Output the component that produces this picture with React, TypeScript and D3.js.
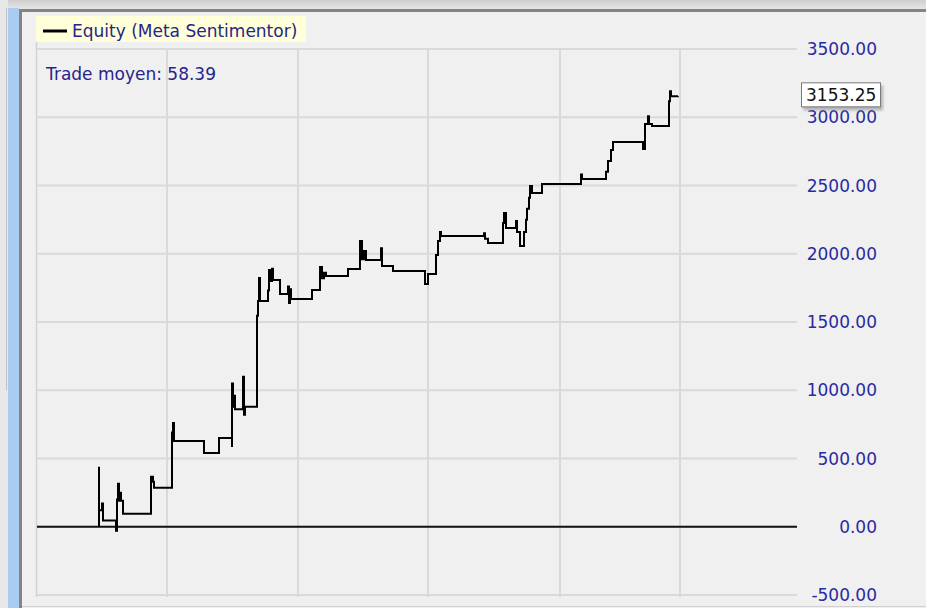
import * as d3 from "d3"

// equity curve: time position (bar offset) and cumulative profit
const equityTimes = [
  62, 62, 62, 65, 66, 78, 79, 80, 81, 82,
  83, 84, 86, 113, 114, 116, 117, 134, 135, 136,
  137, 166, 167, 181, 182, 194, 195, 195, 196, 197,
  198, 206, 207, 208, 219, 220, 221, 222, 223, 230,
  231, 232, 233, 235, 236, 242, 243, 251, 251, 252,
  253, 254, 274, 275, 283, 283, 285, 287, 289, 310,
  311, 323, 323, 325, 327, 329, 344, 344, 345, 355,
  356, 387, 388, 391, 399, 399, 401, 403, 404, 446,
  447, 448, 451, 465, 466, 467, 469, 478, 479, 480,
  483, 487, 487, 489, 490, 492, 493, 495, 504, 505,
  543, 544, 545, 567, 569, 571, 574, 576, 606, 606,
  608, 611, 612, 615, 632, 632, 633, 634, 641,
]
const equityValues = [
  0, 440, 120, 170, 45, 45, -30, 200, 315, 190,
  250, 190, 95, 95, 366, 330, 285, 285, 690, 760,
  629, 629, 541, 541, 651, 651, 585, 1050, 880, 960,
  860, 1098, 820, 880, 880, 1545, 1654, 1823, 1654, 1654,
  1730, 1881, 1801, 1890, 1808, 1808, 1706, 1706, 1760, 1640,
  1740, 1669, 1669, 1735, 1735, 1903, 1820, 1860, 1837, 1837,
  1888, 1888, 2093, 1960, 2020, 1954, 1954, 2040, 1910, 1910,
  1874, 1874, 1779, 1852, 1852, 1990, 2093, 2160, 2130, 2130,
  2150, 2110, 2079, 2079, 2225, 2299, 2189, 2189, 2240, 2160,
  2057, 2057, 2160, 2250, 2330, 2410, 2496, 2445, 2445, 2511,
  2511, 2580, 2548, 2548, 2600, 2680, 2760, 2818, 2818, 2767,
  2950, 3008, 2950, 2935, 2935, 3118, 3191, 3153, 3153.25,
]
const gridTimes = [130, 261, 391, 523, 643]
const yTicks = [-500, 0, 500, 1000, 1500, 2000, 2500, 3000, 3500]
const legendLabel = "Equity (Meta Sentimentor)"
const tradeMoyen = 58.39
const lastValue = 3153.25

const W = 926
const H = 608
const font = "'DejaVu Sans', Verdana, sans-serif"

export default function App() {
  const x = d3.scaleLinear().domain([0, 760]).range([37, 797])
  const y = d3.scaleLinear().domain([-500, 3500]).range([595, 49])

  const points = equityTimes.map((t, i) => [t, equityValues[i]] as [number, number])
  const line = d3
    .line<[number, number]>()
    .x((d) => x(d[0]))
    .y((d) => y(d[1]))
    .curve(d3.curveStepAfter)

  // plain hyphen for negatives, like the original
  const fmt = (v: number) => d3.format(".2f")(v).replace("\u2212", "-")
  const lastY = y(lastValue)

  return (
    <>
      <style>{"body{margin:0}"}</style>
      <svg width={W} height={H} style={{ display: "block" }}>
        <defs>
          <linearGradient id="topbar" x1="0" y1="0" x2="0" y2="1">
            <stop offset="0" stopColor="#cfcfcf" />
            <stop offset="1" stopColor="#e6e6e6" />
          </linearGradient>
          <filter id="shadow" x="-20%" y="-20%" width="150%" height="160%">
            <feGaussianBlur stdDeviation="1.5" />
          </filter>
        </defs>

        {/* window frame */}
        <rect x={0} y={0} width={W} height={H} fill="#f0f0f0" />
        <rect x={0} y={0} width={W} height={9} fill="url(#topbar)" />
        <rect x={0} y={0} width={8} height={H} fill="#e8e8e8" />
        <line x1={6.5} y1={8} x2={6.5} y2={390} stroke="#c2c2c2" />
        <rect x={8} y={8} width={11} height={H - 8} fill="#a9cdf0" />
        <rect x={19} y={9} width={W - 19} height={3} fill="#848484" />
        <rect x={19} y={9} width={3} height={H - 9} fill="#848484" />
        <line x1={22} y1={606.5} x2={W} y2={606.5} stroke="#d0d0d0" />
        <line x1={36.5} y1={42} x2={36.5} y2={597} stroke="#d2d2d2" strokeWidth={1.5} />

        {/* grid */}
        {yTicks.map((v) => (
          <line key={"h" + v} x1={37} x2={797} y1={y(v)} y2={y(v)} stroke="#d9d9d9" strokeWidth={2} />
        ))}
        {gridTimes.map((t) => (
          <line key={"v" + t} x1={x(t)} x2={x(t)} y1={y(3500)} y2={597} stroke="#d9d9d9" strokeWidth={2} />
        ))}
        <line x1={37} x2={797} y1={y(0)} y2={y(0)} stroke="#111" strokeWidth={2} />

        {/* y axis labels */}
        {yTicks.map((v) => (
          <text
            key={"t" + v}
            x={877}
            y={y(v) + 6}
            textAnchor="end"
            fontFamily={font}
            fontSize={17}
            fill="#2a2aa0"
          >
            {fmt(v)}
          </text>
        ))}

        {/* equity line */}
        <path d={line(points) ?? ""} fill="none" stroke="#000" strokeWidth={2} />

        {/* last value marker */}
        <rect x={803} y={lastY - 11} width={80} height={25} fill="#888" opacity={0.6} filter="url(#shadow)" />
        <rect x={801.5} y={lastY - 13.5} width={79} height={24} fill="#fff" stroke="#7a7a7a" />
        <text x={806} y={lastY + 5} fontFamily={font} fontSize={17} fill="#111">
          {fmt(lastValue)}
        </text>

        {/* legend */}
        <rect x={36} y={16} width={270} height={26} fill="#ffffd9" />
        <line x1={43} x2={67} y1={31} y2={31} stroke="#000" strokeWidth={3} />
        <text x={72} y={37} fontFamily={font} fontSize={17} fill="#25258a">
          {legendLabel}
        </text>
        <text x={46} y={80} fontFamily={font} fontSize={17} fill="#25258a">
          {"Trade moyen: " + fmt(tradeMoyen)}
        </text>
      </svg>
    </>
  )
}
